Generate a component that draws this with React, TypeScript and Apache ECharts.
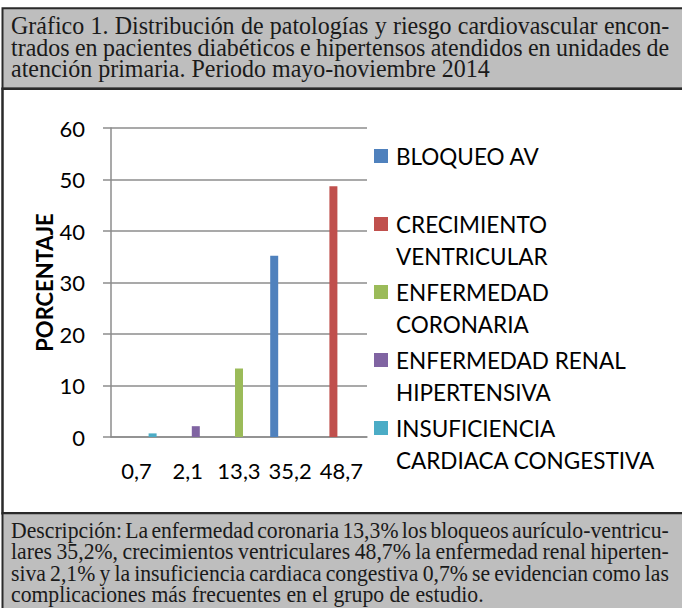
import { useEffect, useRef } from 'react';
import * as echarts from 'echarts';

const categories = ['0,7', '2,1', '13,3', '35,2', '48,7'];
const seriesNames = [
  'BLOQUEO AV',
  'CRECIMIENTO VENTRICULAR',
  'ENFERMEDAD CORONARIA',
  'ENFERMEDAD RENAL HIPERTENSIVA',
  'INSUFICIENCIA CARDIACA CONGESTIVA',
];
const legendLabels = [
  'BLOQUEO AV',
  'CRECIMIENTO\nVENTRICULAR',
  'ENFERMEDAD\nCORONARIA',
  'ENFERMEDAD RENAL\nHIPERTENSIVA',
  'INSUFICIENCIA\nCARDIACA CONGESTIVA',
];
const bloqueoAV = [0, 0, 0, 35.2, 0];
const crecimientoVentricular = [0, 0, 0, 0, 48.7];
const enfermedadCoronaria = [0, 0, 13.3, 0, 0];
const enfermedadRenal = [0, 2.1, 0, 0, 0];
const insuficienciaCardiaca = [0.7, 0, 0, 0, 0];
const seriesValues = [bloqueoAV, crecimientoVentricular, enfermedadCoronaria, enfermedadRenal, insuficienciaCardiaca];
const seriesColors = ['#4F81BD', '#C0504D', '#9BBB59', '#8064A2', '#4BACC6'];
const yMin = 0;
const yMax = 60;
const yInterval = 10;
const yAxisName = 'PORCENTAJE';

const titleLines = [
  'Gráfico 1. Distribución de patologías y riesgo cardiovascular encon-',
  'trados en pacientes diabéticos e hipertensos atendidos en unidades de',
  'atención primaria. Periodo mayo-noviembre 2014',
];
const footerLines = [
  'Descripción: La enfermedad coronaria 13,3% los bloqueos aurículo-ventricu-',
  'lares 35,2%, crecimientos ventriculares 48,7% la enfermedad renal hiperten-',
  'siva 2,1% y la insuficiencia cardiaca congestiva 0,7% se evidencian como las',
  'complicaciones más frecuentes en el grupo de estudio.',
];

const W = 682;
const H = 608;
const SERIF = '"Liberation Serif", "Times New Roman", serif';
const SANS = 'Lato, "Open Sans", sans-serif';

// legend icons: a 14px square placed inside a 17x80 box (degenerate points fix the box)
const ICON_TOP = 'path://M0,17L14,17L14,31L0,31Z M0,0L0.01,0Z M16.99,80L17,80Z';
const ICON_MID = 'path://M0,33L14,33L14,47L0,47Z M0,0L0.01,0Z M16.99,80L17,80Z';

export default function App() {
  const ref = useRef<HTMLDivElement>(null);

  useEffect(() => {
    document.body.style.margin = '0';
    const chart = echarts.init(ref.current!, null, { renderer: 'svg' });
    const ctx = document.createElement('canvas').getContext('2d')!;
    const textLeft = 11;
    const textRight = 669;
    const span = textRight - textLeft;

    // justified paragraph: uniform horizontal condensing, adjusted spaces on full lines
    const makeLines = (lines: string[], baselines: number[], fs: number, lastEnd: number) => {
      ctx.font = `${fs}px ${SERIF}`;
      const last = lines[lines.length - 1];
      const normalSpace = ctx.measureText(' ').width;
      const minSpace = normalSpace * 0.6;
      const wordInfo = lines.map((l) => {
        const words = l.split(' ');
        return { words, wordsW: words.reduce((a, w) => a + ctx.measureText(w).width, 0) };
      });
      let s0 = (lastEnd - textLeft) / ctx.measureText(last).width;
      wordInfo.slice(0, -1).forEach(({ words, wordsW }) => {
        s0 = Math.min(s0, span / (wordsW + (words.length - 1) * minSpace));
      });
      return lines.map((t, i) => {
        const justified = i < lines.length - 1;
        let text = t;
        let rich: any = undefined;
        if (justified) {
          const { words, wordsW } = wordInfo[i];
          const spW = Math.max(minSpace, (span / s0 - wordsW) / (words.length - 1));
          text = words.join('{sp| }');
          rich = { sp: { width: spW, fontSize: fs, fontFamily: SERIF, lineHeight: fs } };
        }
        return {
          type: 'text',
          x: textLeft,
          y: baselines[i] - 0.3375 * fs,
          scaleX: s0,
          z: 10,
          style: {
            text,
            rich,
            fontFamily: SERIF,
            fontSize: fs,
            lineHeight: fs,
            fill: '#1a1a1a',
            align: 'left',
            verticalAlign: 'middle',
          },
        };
      });
    };

    const border = '#2a2a2a';
    const grey = '#BEBEBE';

    const legendCommon = {
      orient: 'vertical',
      left: 374,
      padding: 0,
      itemWidth: 17,
      itemHeight: 80,
      itemGap: -12,
      selectedMode: false,
      formatter: (n: string) => legendLabels[seriesNames.indexOf(n)],
      textStyle: {
        fontFamily: SANS,
        fontSize: 22.5,
        lineHeight: 32,
        color: '#000',
      },
    };

    const option: any = {
      animation: false,
      backgroundColor: '#ffffff',
      graphic: [
        { type: 'rect', z: -10, shape: { x: 2.5, y: 8.3, width: 720, height: 80.5 }, style: { fill: grey, stroke: border, lineWidth: 2 } },
        { type: 'rect', z: -10, shape: { x: 2.5, y: 88.8, width: 720, height: 424.5 }, style: { fill: '#ffffff', stroke: border, lineWidth: 2.5 } },
        { type: 'rect', z: -10, shape: { x: 2.5, y: 513.3, width: 720, height: 120 }, style: { fill: grey, stroke: border, lineWidth: 2 } },
        ...makeLines(titleLines, [33.5, 55.5, 77], 26, 490),
        ...makeLines(footerLines, [538, 559.5, 581, 602.5], 24, 502),
      ],
      grid: { left: 111, right: W - 367, top: 128, bottom: H - 437, outerBoundsMode: 'none', containLabel: false },
      legend: [
        {
          ...legendCommon,
          top: 116,
          data: [{ name: seriesNames[0], icon: ICON_MID }],
        },
        {
          ...legendCommon,
          top: 200,
          data: seriesNames.slice(1).map((n) => ({ name: n, icon: ICON_TOP })),
        },
      ],
      xAxis: {
        type: 'category',
        data: categories,
        axisLine: { show: true, lineStyle: { color: '#8c8c8c', width: 1.5 } },
        axisTick: { show: false },
        splitLine: { show: false },
        axisLabel: { interval: 0, fontFamily: SANS, fontSize: 22, color: '#000', margin: 22 },
      },
      yAxis: {
        type: 'value',
        min: yMin,
        max: yMax,
        interval: yInterval,
        name: yAxisName,
        nameLocation: 'middle',
        nameRotate: 90,
        nameGap: 56,
        nameTextStyle: { fontFamily: SANS, fontSize: 22, fontWeight: 'bold', color: '#000' },
        axisLine: { show: true, lineStyle: { color: '#8c8c8c', width: 1.5 } },
        axisTick: { show: true, length: 8, lineStyle: { color: '#8c8c8c', width: 1.5 } },
        splitLine: { show: true, lineStyle: { color: '#8c8c8c', width: 1.5 } },
        axisLabel: { fontFamily: SANS, fontSize: 22, color: '#000', margin: 26 },
      },
      series: seriesNames.map((n, i) => ({
        name: n,
        type: 'bar',
        data: seriesValues[i],
        barWidth: 8,
        barGap: '0%',
        itemStyle: { color: seriesColors[i] },
      })),
    };

    chart.setOption(option);
    return () => chart.dispose();
  }, []);

  return <div ref={ref} style={{ width: W, height: H }} />;
}
